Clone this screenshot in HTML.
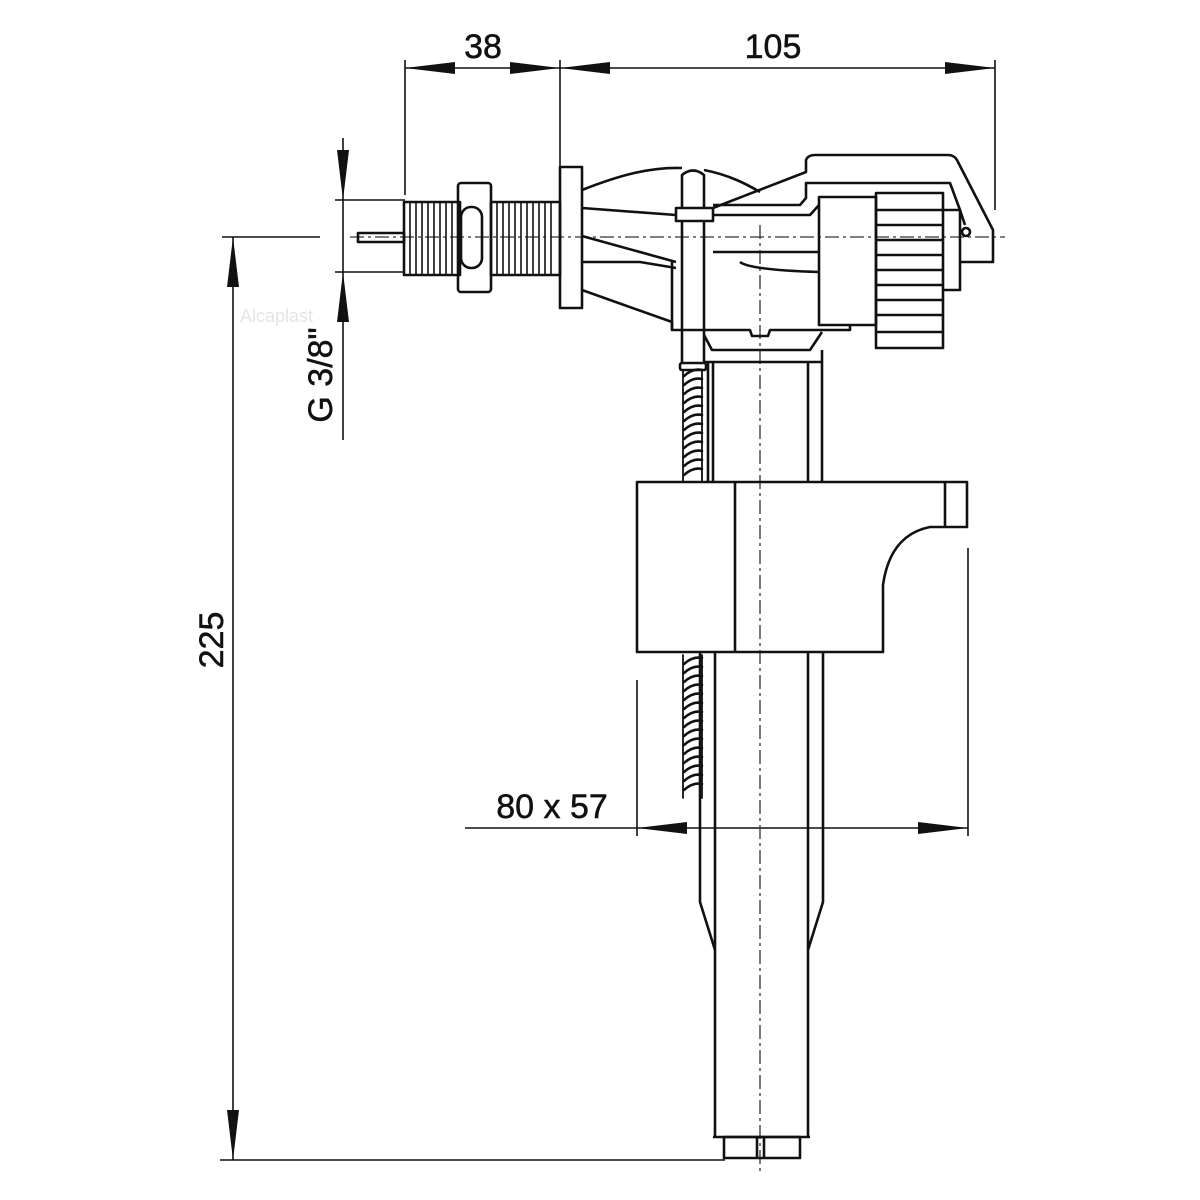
<!DOCTYPE html>
<html><head><meta charset="utf-8"><style>body{margin:0;background:#fff}svg{display:block}</style></head><body>
<svg width="1200" height="1200" viewBox="0 0 1200 1200" xmlns="http://www.w3.org/2000/svg">
<rect width="1200" height="1200" fill="#fff"/>
<g stroke="#111" stroke-width="1.6" fill="none">
<line x1="405" y1="68" x2="995" y2="68"/>
<line x1="405" y1="60" x2="405" y2="195"/>
<line x1="560" y1="60" x2="560" y2="185"/>
<line x1="995" y1="60" x2="995" y2="210"/>
<line x1="233" y1="237" x2="233" y2="1160"/>
<line x1="222" y1="237" x2="320" y2="237"/>
<line x1="220" y1="1160" x2="725" y2="1160"/>
<line x1="343" y1="138" x2="343" y2="440"/>
<line x1="335" y1="200" x2="405" y2="200"/>
<line x1="335" y1="272" x2="405" y2="272"/>
<line x1="465" y1="828" x2="968" y2="828"/>
<line x1="637" y1="680" x2="637" y2="836"/>
<line x1="968" y1="548" x2="968" y2="836"/>
</g>
<g fill="#111">
<polygon points="405,68 455,62 455,74"/>
<polygon points="560,68 510,62 510,74"/>
<polygon points="560,68 610,62 610,74"/>
<polygon points="995,68 945,62 945,74"/>
<polygon points="233,237 227,287 239,287"/>
<polygon points="233,1160 227,1110 239,1110"/>
<polygon points="343,200 337,150 349,150"/>
<polygon points="343,272 337,322 349,322"/>
<polygon points="637,828 687,822 687,834"/>
<polygon points="968,828 918,822 918,834"/>
</g>
<g font-family="Liberation Sans, sans-serif" font-size="34" fill="#111" stroke="#111" stroke-width="0.5">
<text x="483" y="58" text-anchor="middle">38</text>
<text x="773" y="58" text-anchor="middle">105</text>
<text x="552" y="818" text-anchor="middle">80 x 57</text>
<text transform="translate(223,640) rotate(-90)" text-anchor="middle">225</text>
<text transform="translate(332,375) rotate(-90)" text-anchor="middle">G 3/8"</text>
</g>
<text x="240" y="322" font-family="Liberation Sans, sans-serif" font-size="18" fill="#e4e4e4">Alcaplast</text>
<g stroke="#333" stroke-width="1.3" stroke-dasharray="14,4,3,4" fill="none">
<line x1="350" y1="237" x2="1005" y2="237"/>
<line x1="760" y1="225" x2="760" y2="1172"/>
</g>
<g stroke="#111" stroke-width="2.6" fill="none" stroke-linejoin="round">
<rect x="358" y="233" width="46" height="9"/>
<rect x="404" y="202" width="56" height="73"/>
<rect x="491" y="202" width="69" height="73"/>
<rect x="458" y="183" width="33" height="109" rx="3"/>
<rect x="461" y="207" width="21" height="61" rx="10"/>
<rect x="560" y="167" width="22" height="141"/>
</g>
<g stroke="#111" stroke-width="1.6">
<line x1="410" y1="202" x2="410" y2="275"/><line x1="416" y1="202" x2="416" y2="275"/><line x1="422" y1="202" x2="422" y2="275"/><line x1="428" y1="202" x2="428" y2="275"/><line x1="434" y1="202" x2="434" y2="275"/><line x1="440" y1="202" x2="440" y2="275"/><line x1="446" y1="202" x2="446" y2="275"/><line x1="452" y1="202" x2="452" y2="275"/>
<line x1="497" y1="202" x2="497" y2="275"/><line x1="503" y1="202" x2="503" y2="275"/><line x1="509" y1="202" x2="509" y2="275"/><line x1="515" y1="202" x2="515" y2="275"/><line x1="521" y1="202" x2="521" y2="275"/><line x1="527" y1="202" x2="527" y2="275"/><line x1="533" y1="202" x2="533" y2="275"/><line x1="539" y1="202" x2="539" y2="275"/><line x1="545" y1="202" x2="545" y2="275"/><line x1="551" y1="202" x2="551" y2="275"/>
</g>
<g stroke="#111" stroke-width="2.6" fill="none" stroke-linejoin="round">
<path d="M582,190 C620,175 650,167 682,168"/>
<path d="M704,170 C730,175 748,185 760,192"/>
<path d="M582,208 L676,215"/>
<path d="M582,236 L676,262"/>
<path d="M582,262 L640,262 L676,268"/>
<path d="M582,290 L672,322"/>
<line x1="672" y1="262" x2="672" y2="330"/>
<rect x="676" y="208" width="37" height="13"/>
<path d="M682,208 L682,175 Q693,166 704,175 L704,208"/>
<line x1="682" y1="221" x2="682" y2="363"/>
<line x1="704" y1="221" x2="704" y2="363"/>
<rect x="680" y="363" width="26" height="7" rx="2"/>
<path d="M713,208 L806,172 L806,160 Q808,155 815,155 L948,155 Q955,155 958,162 L993,230 L993,262 L960,262"/>
<path d="M713,205 L800,205 L806,198 L806,183 L950,183 L960,210 L965,225"/>
<path d="M713,215 L810,215 L819,205"/>
<line x1="713" y1="252" x2="819" y2="252"/>
<path d="M740,262 Q750,270 819,272"/>
<rect x="819" y="197" width="57" height="128"/>
<rect x="876" y="193" width="67" height="155"/>
<path d="M943,210 L960,210 L960,290 L943,290"/>
<line x1="876" y1="210" x2="943" y2="210"/>
<line x1="876" y1="225" x2="943" y2="225"/>
<line x1="876" y1="240" x2="943" y2="240"/>
<line x1="876" y1="255" x2="943" y2="255"/>
<line x1="876" y1="270" x2="943" y2="270"/>
<line x1="876" y1="285" x2="943" y2="285"/>
<line x1="876" y1="300" x2="943" y2="300"/>
<line x1="876" y1="315" x2="943" y2="315"/>
<line x1="876" y1="332" x2="943" y2="332"/>
<circle cx="966" cy="232" r="4"/>
<path d="M672,322 L672,330 L750,330 L752,336 L768,336 L770,330 L850,330 L850,325"/>
<path d="M704,335 L712,350 L810,350 L822,332"/>
<line x1="704" y1="362" x2="822" y2="362"/>
<line x1="708" y1="362" x2="708" y2="482"/>
<line x1="713" y1="362" x2="713" y2="482"/>
<line x1="808" y1="362" x2="808" y2="482"/>
<line x1="822" y1="350" x2="822" y2="482"/>
<path d="M637,482 L967,482 L967,527 L930,527 Q890,535 883,585 L883,652 L637,652 Z"/>
<line x1="735" y1="482" x2="735" y2="652"/>
<line x1="945" y1="482" x2="945" y2="527"/>
<path d="M700,652 L700,902 L715,950 L715,1137"/>
<line x1="715" y1="652" x2="715" y2="950"/>
<path d="M823,652 L823,902 L808,950 L808,1137"/>
<line x1="808" y1="652" x2="808" y2="950"/>
<line x1="713" y1="1137" x2="810" y2="1137"/>
<rect x="724" y="1137" width="76" height="21"/>
<line x1="757" y1="1137" x2="757" y2="1158"/>
<line x1="764" y1="1137" x2="764" y2="1158"/>
</g>
<g stroke="#111" stroke-width="2.6" fill="none" stroke-linecap="round">
<path d="M684,376 q9,-8 18,-6 M684,385 q9,-8 18,-6 M684,394 q9,-8 18,-6 M684,403 q9,-8 18,-6 M684,412 q9,-8 18,-6 M684,421 q9,-8 18,-6 M684,430 q9,-8 18,-6 M684,439 q9,-8 18,-6 M684,448 q9,-8 18,-6 M684,457 q9,-8 18,-6 M684,466 q9,-8 18,-6 M684,475 q9,-8 18,-6"/>
<path d="M684,664 q9,-8 18,-6 M684,673 q9,-8 18,-6 M684,682 q9,-8 18,-6 M684,691 q9,-8 18,-6 M684,700 q9,-8 18,-6 M684,709 q9,-8 18,-6 M684,718 q9,-8 18,-6 M684,727 q9,-8 18,-6 M684,736 q9,-8 18,-6 M684,745 q9,-8 18,-6 M684,754 q9,-8 18,-6 M684,763 q9,-8 18,-6 M684,772 q9,-8 18,-6 M684,781 q9,-8 18,-6 M684,790 q9,-8 18,-6"/>
<path d="M683,370 L683,482 M702,370 L702,482 M683,655 L683,798 M702,655 L702,798" stroke-width="1.8"/>
</g>
</svg>
</body></html>
